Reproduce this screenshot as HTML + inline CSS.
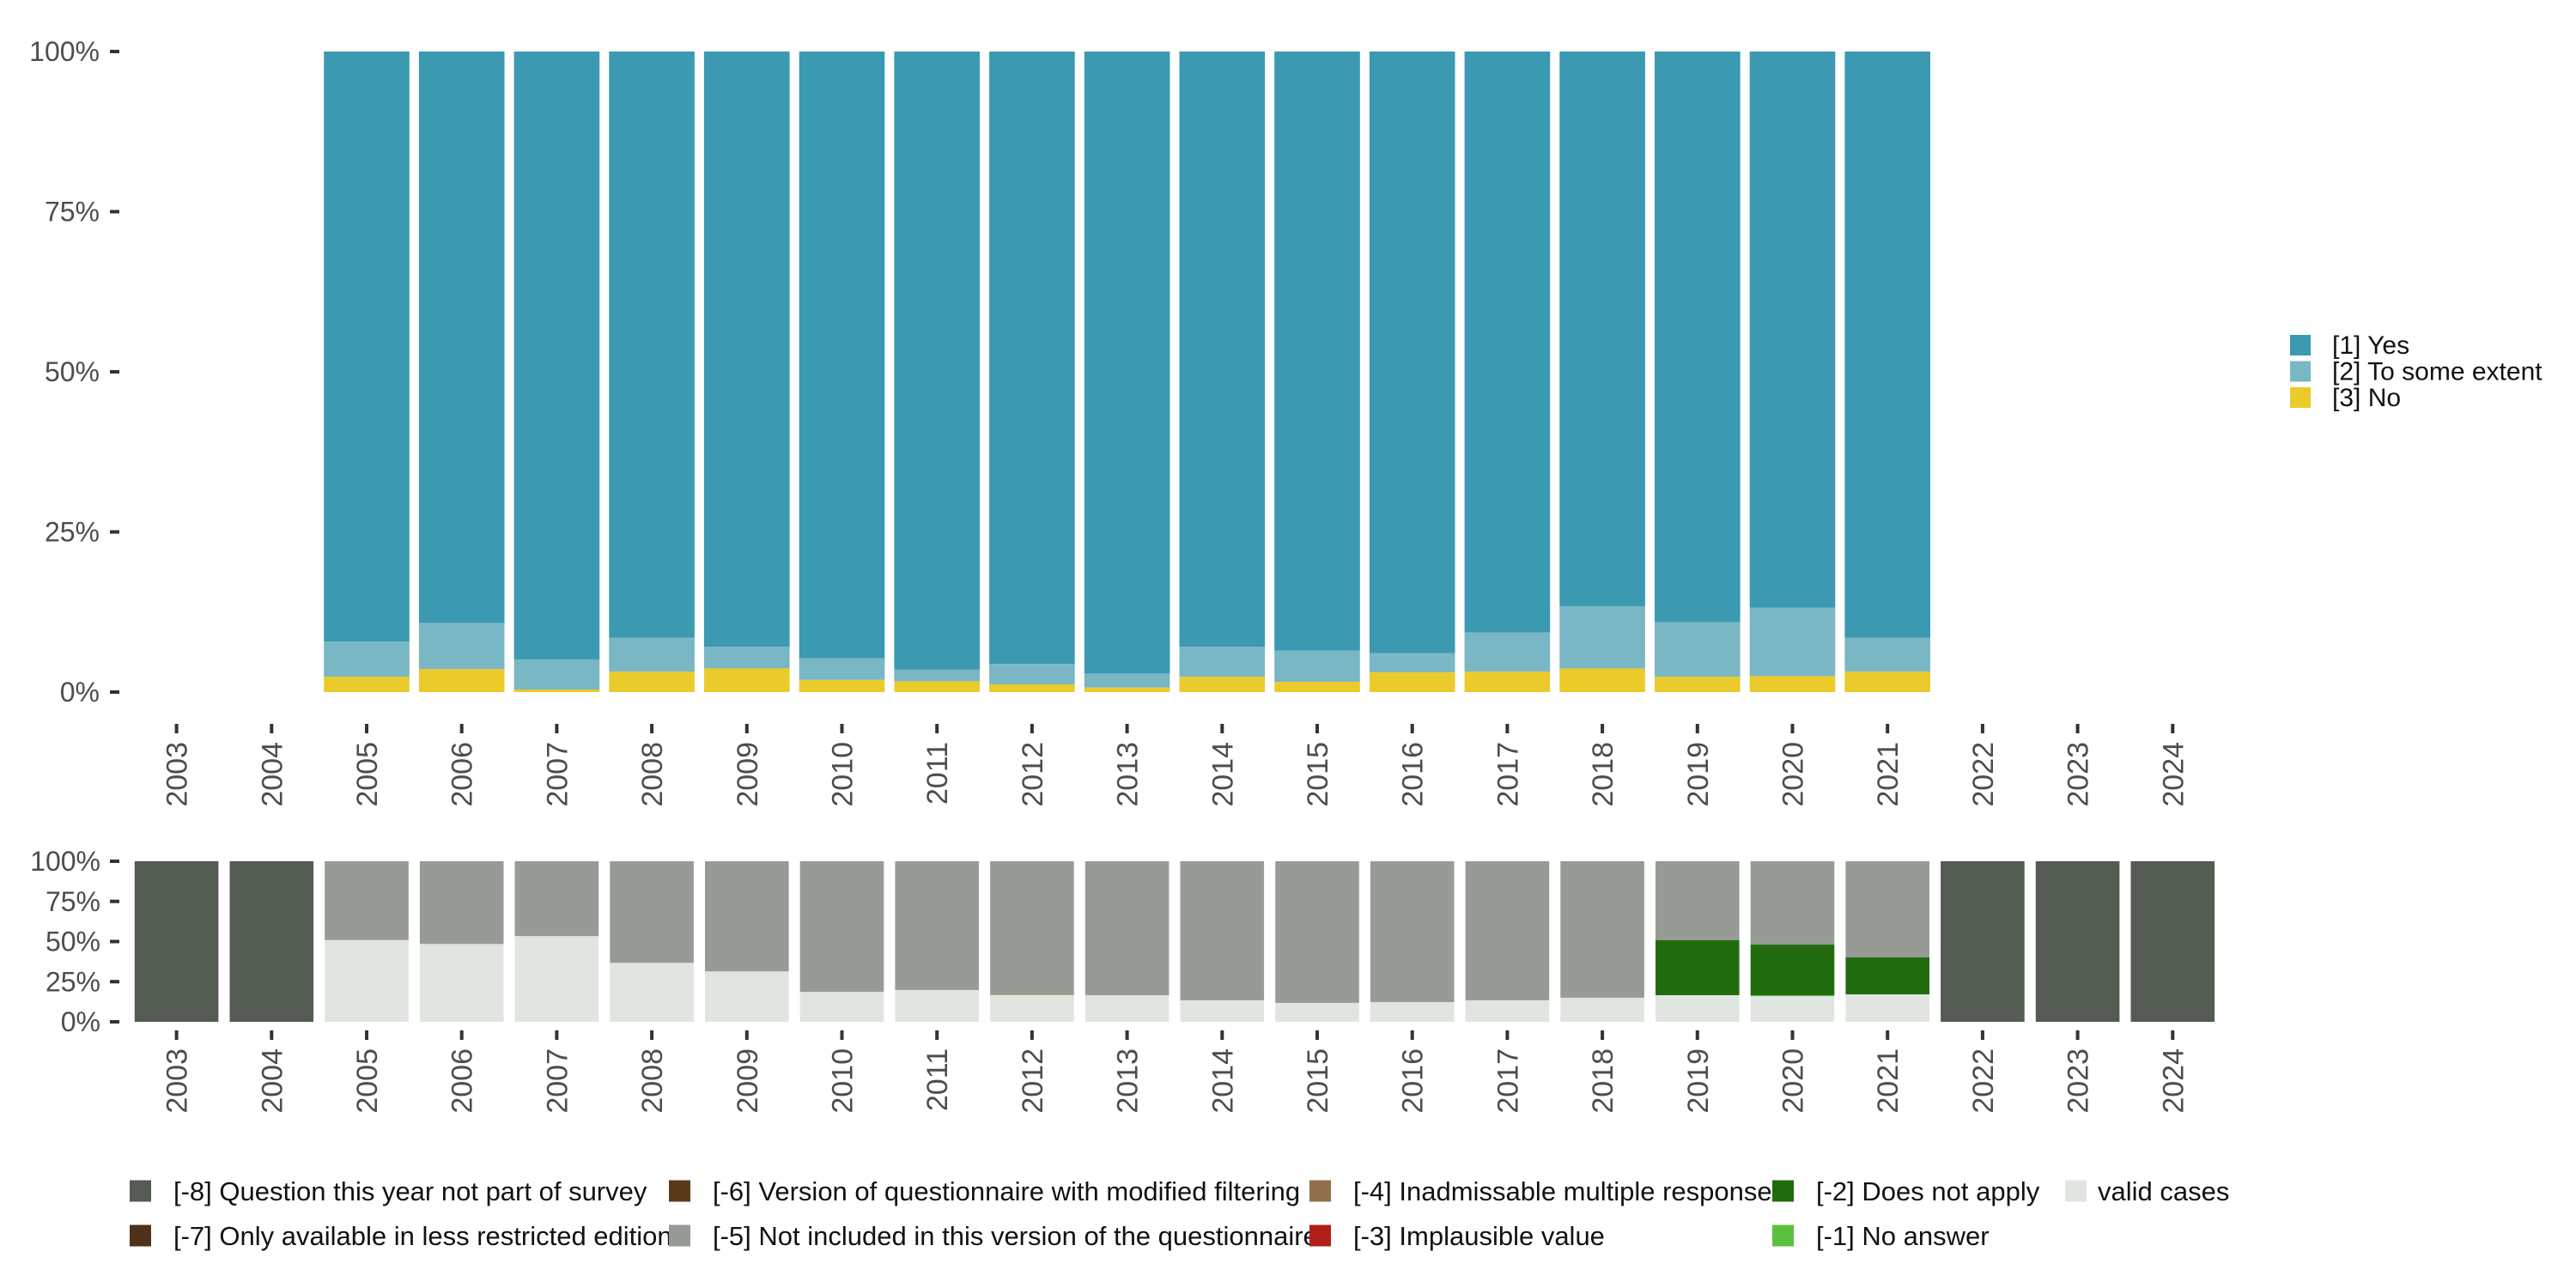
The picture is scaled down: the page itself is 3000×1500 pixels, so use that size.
<!DOCTYPE html>
<html><head><meta charset="utf-8">
<style>
html,body{margin:0;padding:0;background:#fff;}
svg{display:block;font-family:"Liberation Sans",sans-serif;}
</style></head>
<body>
<svg id="chart" width="3000" height="1500" viewBox="0 0 3000 1500" xmlns="http://www.w3.org/2000/svg"></svg>
<script>
// ---- data ----
const years = ["2003","2004","2005","2006","2007","2008","2009","2010","2011","2012","2013","2014","2015","2016","2017","2018","2019","2020","2021","2022","2023","2024"];
// top chart (% of valid cases); null = no data
const noVals   = [null,null,2.4,3.6,0.4,3.2,3.7,1.9,1.7,1.2,0.7,2.4,1.6,3.1,3.2,3.7,2.4,2.5,3.2,null,null,null];
const someVals = [null,null,5.5,7.2,4.7,5.3,3.4,3.4,1.8,3.2,2.2,4.7,4.9,3.0,6.1,9.7,8.5,10.7,5.3,null,null,null];
// bottom chart (% of all cases)
const validVals = [0,0,50.9,48.5,53.4,36.7,31.4,18.7,19.8,16.6,16.6,13.4,11.8,12.3,13.4,15.0,16.6,16.0,17.1,0,0,0];
const noAnsVals = [0,0,0,0,0,0,0,0,0,0.3,0,0,0,0,0,0,0,0.5,0,0,0,0];
const dnaVals   = [0,0,0,0,0,0,0,0,0,0,0,0,0,0,0,0,34.2,31.6,23.0,0,0,0];
const notSurvVals = [100,100,0,0,0,0,0,0,0,0,0,0,0,0,0,0,0,0,0,100,100,100];
const yTicks = [0,25,50,75,100];
const yTickLabels = ["0%","25%","50%","75%","100%"];

const C = {yes:"#3b99b1",some:"#7ab7c5",no:"#eacb2b",m8:"#535b53",m7:"#4f3018",m6:"#5b3a1c",m5:"#979b95",m4:"#916f4a",m3:"#b01f1a",m2:"#216b0f",m1:"#5bc03f",valid:"#e1e5e0"};
const NS="http://www.w3.org/2000/svg";
const svg=document.getElementById('chart');
function mk(tag,attrs,parent){const e=document.createElementNS(NS,tag);for(const k in attrs)e.setAttribute(k,attrs[k]);(parent||svg).appendChild(e);return e;}

const step=110.7, x0=205.6, bw=99.6;
const xC=i=>x0+i*step;
const yTop=v=>806-(v/100)*746;
const yBot=v=>1190-(v/100)*187;

// ---- top chart ----
const gTop=mk('g',{});


years.forEach((yr,i)=>{
  if(noVals[i]===null) return;
  const n=noVals[i], s=someVals[i];
  const segs=[[0,n,C.no,'no'],[n,n+s,C.some,'some'],[n+s,100,C.yes,'yes']];
  segs.forEach(sg=>{
    const r=mk('rect',{x:xC(i)-bw/2,y:yTop(sg[1]),width:bw,height:yTop(sg[0])-yTop(sg[1]),fill:sg[2]},gTop);
    
    
  });
});
yTicks.forEach((t,k)=>{
  const y=yTop(t);
  mk('line',{x1:128,x2:139,y1:y,y2:y,stroke:'#333','stroke-width':4},gTop);
  const tx=mk('text',{x:116,y:y+11,'text-anchor':'end','font-size':32,fill:'#4d4d4d'},gTop);
  tx.textContent=yTickLabels[k];
  
  
});
years.forEach((yr,i)=>{
  const x=xC(i);
  mk('line',{x1:x,x2:x,y1:843,y2:854,stroke:'#333','stroke-width':4},gTop);
  const tx=mk('text',{x:0,y:0,'text-anchor':'end','font-size':34,fill:'#4d4d4d',transform:`translate(${x+12},864) rotate(-90)`},gTop);
  tx.textContent=yr;
  
  
});
// right legend
const legTop=[["[1] Yes",C.yes],["[2] To some extent",C.some],["[3] No",C.no]];
legTop.forEach((l,k)=>{
  const y=402+k*30.5;
  const r=mk('rect',{x:2667,y:y-12,width:24,height:24,fill:l[1]});
  
  
  const t=mk('text',{x:2716,y:y+10,'font-size':30,fill:'#111'});
  t.textContent=l[0];
  
  
});

// ---- bottom chart ----
const gBot=mk('g',{});


years.forEach((yr,i)=>{
  let acc=0;
  const parts=[[validVals[i],C.valid,'valid'],[noAnsVals[i],C.m1,'no-answer'],[dnaVals[i],C.m2,'does-not-apply']];
  if(notSurvVals[i]>0) parts.push([notSurvVals[i],C.m8,'not-surveyed']);
  else parts.push([100-validVals[i]-noAnsVals[i]-dnaVals[i],C.m5,'not-included']);
  parts.forEach(p=>{
    if(p[0]<=0) return;
    const r=mk('rect',{x:xC(i)-bw/2+1,y:yBot(acc+p[0]),width:bw-2,height:yBot(acc)-yBot(acc+p[0]),fill:p[1]},gBot);
    
    
    acc+=p[0];
  });
});
yTicks.forEach((t,k)=>{
  const y=yBot(t);
  mk('line',{x1:128,x2:139,y1:y,y2:y,stroke:'#333','stroke-width':4},gBot);
  const tx=mk('text',{x:117,y:y+11,'text-anchor':'end','font-size':32,fill:'#4d4d4d'},gBot);
  tx.textContent=yTickLabels[k];
  
  
});
years.forEach((yr,i)=>{
  const x=xC(i);
  mk('line',{x1:x,x2:x,y1:1200,y2:1211,stroke:'#333','stroke-width':4},gBot);
  const tx=mk('text',{x:0,y:0,'text-anchor':'end','font-size':34,fill:'#4d4d4d',transform:`translate(${x+12},1221) rotate(-90)`},gBot);
  tx.textContent=yr;
  
  
});
// bottom legend
const legBot=[
 ["[-8] Question this year not part of survey",C.m8,151,1387],
 ["[-7] Only available in less restricted edition",C.m7,151,1439],
 ["[-6] Version of questionnaire with modified filtering",C.m6,779,1387],
 ["[-5] Not included in this version of the questionnaire",C.m5,779,1439],
 ["[-4] Inadmissable multiple response",C.m4,1525,1387],
 ["[-3] Implausible value",C.m3,1525,1439],
 ["[-2] Does not apply",C.m2,2064,1387],
 ["[-1] No answer",C.m1,2064,1439],
 ["valid cases",C.valid,2405,1387]];
legBot.forEach(l=>{
  const t=mk('text',{x:l[2]+(l[0]==="valid cases"?38:51),y:l[3]+11,'font-size':31,fill:'#111'});
  t.textContent=l[0];
  
  
  const r=mk('rect',{x:l[2],y:l[3]-12.5,width:25,height:25,fill:l[1]});
  
  
});
</script>
</body></html>
